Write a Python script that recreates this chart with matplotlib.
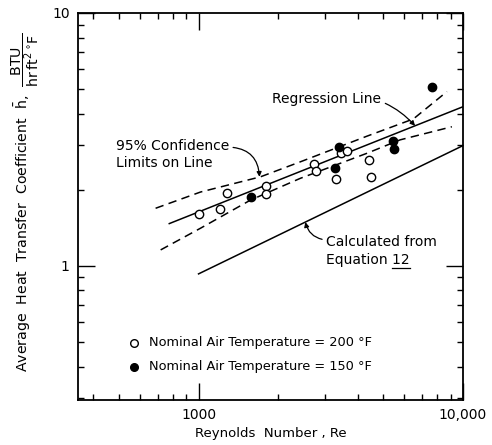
import matplotlib.pyplot as plt
from matplotlib.lines import Line2D
from matplotlib.text import Text
from matplotlib.ticker import FixedLocator, LogLocator, NullFormatter, FixedFormatter

plt.rcParams['font.family'] = 'DejaVu Sans'
plt.rcParams['mathtext.fontset'] = 'dejavusans'

# datos medidos
re_200 = [1006, 1203, 1276, 1800, 1800, 2740, 2780, 3450, 3650, 3310, 4415, 4490]
h_200 = [1.60, 1.68, 1.94, 2.07, 1.92, 2.53, 2.38, 2.79, 2.85, 2.20, 2.62, 2.25]
re_150 = [1580, 3405, 3290, 5455, 5500, 7660]
h_150 = [1.88, 2.96, 2.43, 3.12, 2.89, 5.09]

# reta de regressao e limites de confianca
re_reg = [775, 10000]
h_reg = [1.47, 4.26]
re_sup = [688, 1018, 1714, 2427, 4340, 6490, 8700]
h_sup = [1.69, 1.96, 2.25, 2.58, 3.26, 3.81, 4.89]
re_inf = [719, 1018, 1571, 2427, 4340, 5780, 9080]
h_inf = [1.157, 1.41, 1.82, 2.22, 2.79, 3.15, 3.55]

# curva calculada pela equacao 12
re_eq = [1000, 10000]
h_eq = [0.93, 2.99]

fig = plt.figure(figsize=(4.92, 4.45), dpi=100)
ax = fig.add_axes([0.1585, 0.1011, 0.7825, 0.8697])

ax.plot(re_reg, h_reg, color='black', lw=1.1)
ax.plot(re_sup, h_sup, color='black', lw=1.1, dashes=(5.5, 3.5))
ax.plot(re_inf, h_inf, color='black', lw=1.1, dashes=(5.5, 3.5))
ax.plot(re_eq, h_eq, color='black', lw=1.1)

ax.plot(re_200, h_200, 'o', ms=6, mfc='white', mec='black', mew=1.0, zorder=5)
ax.plot(re_150, h_150, 'o', ms=6, mfc='black', mec='black', mew=1.0, zorder=5)

ax.set_xscale('log')
ax.set_yscale('log')
ax.set_xlim(350, 10000)
ax.set_ylim(0.295, 10)

ax.xaxis.set_major_locator(FixedLocator([1000, 10000]))
ax.xaxis.set_major_formatter(FixedFormatter(['1000', '10,000']))
ax.xaxis.set_minor_locator(LogLocator(base=10, subs=range(2, 10)))
ax.xaxis.set_minor_formatter(NullFormatter())
ax.yaxis.set_major_locator(FixedLocator([1, 10]))
ax.yaxis.set_major_formatter(FixedFormatter(['1', '10']))
ax.yaxis.set_minor_locator(LogLocator(base=10, subs=range(2, 10)))
ax.yaxis.set_minor_formatter(NullFormatter())

ax.tick_params(which='both', direction='in', top=True, right=True, width=1.0)
ax.tick_params(which='major', length=12, labelsize=10, pad=6)
ax.tick_params(which='minor', length=4.5)
for s in ax.spines.values():
    s.set_linewidth(1.3)

ax.set_xlabel('Reynolds  Number , Re', fontsize=9.5, labelpad=3)
fig.text(0.052, 0.545,
         r'Average  Heat  Transfer  Coefficient  $\bar{\mathrm{h}}$,  $\dfrac{\mathrm{BTU}}{\mathrm{hr\,ft^2\,^{\circ}F}}$',
         rotation=90, ha='center', va='center', fontsize=10.2)

# anotacoes com setas curvas
seta = dict(arrowstyle='-|>', color='black', lw=0.9, mutation_scale=7, shrinkA=1, shrinkB=0)
ax.annotate('Regression Line', xy=(6590, 3.58), xytext=(1900, 4.55),
            fontsize=10, ha='left', va='center',
            arrowprops=dict(seta, connectionstyle='arc3,rad=-0.3'))
ax.annotate('95% Confidence\nLimits on Line', xy=(1700, 2.25), xytext=(486, 2.75),
            fontsize=10, ha='left', va='center', linespacing=1.25,
            arrowprops=dict(seta, relpos=(1.0, 0.75), connectionstyle='arc3,rad=-0.45'))
eq_txt = ax.annotate('Calculated from\nEquation 12', xy=(2535, 1.49), xytext=(3040, 1.146),
                     fontsize=10, ha='left', va='center', linespacing=1.3,
                     arrowprops=dict(seta, relpos=(0.0, 0.85), connectionstyle='arc3,rad=-0.35'))

# sublinhado do numero da equacao
fig.canvas.draw()
r = fig.canvas.get_renderer()
bb = Text.get_window_extent(eq_txt, r)
tmp = fig.text(0, 0, 'Equation 12', fontsize=10)
w1 = tmp.get_window_extent(r).width
tmp.remove()
tmp = fig.text(0, 0, '12', fontsize=10)
w12 = tmp.get_window_extent(r).width
tmp.remove()
fig.add_artist(Line2D([bb.x0 + w1 - w12, bb.x0 + w1], [bb.y0 - 1, bb.y0 - 1],
                      transform=None, color='black', lw=0.9))

# legenda manual
ax.plot([569], [0.496], 'o', ms=5.5, mfc='white', mec='black', mew=1.0)
ax.plot([569], [0.399], 'o', ms=5.5, mfc='black', mec='black', mew=1.0)
ax.text(648, 0.496, 'Nominal Air Temperature = 200 °F', fontsize=9.3, va='center')
ax.text(648, 0.399, 'Nominal Air Temperature = 150 °F', fontsize=9.3, va='center')

fig.savefig('out.png', dpi=100)
